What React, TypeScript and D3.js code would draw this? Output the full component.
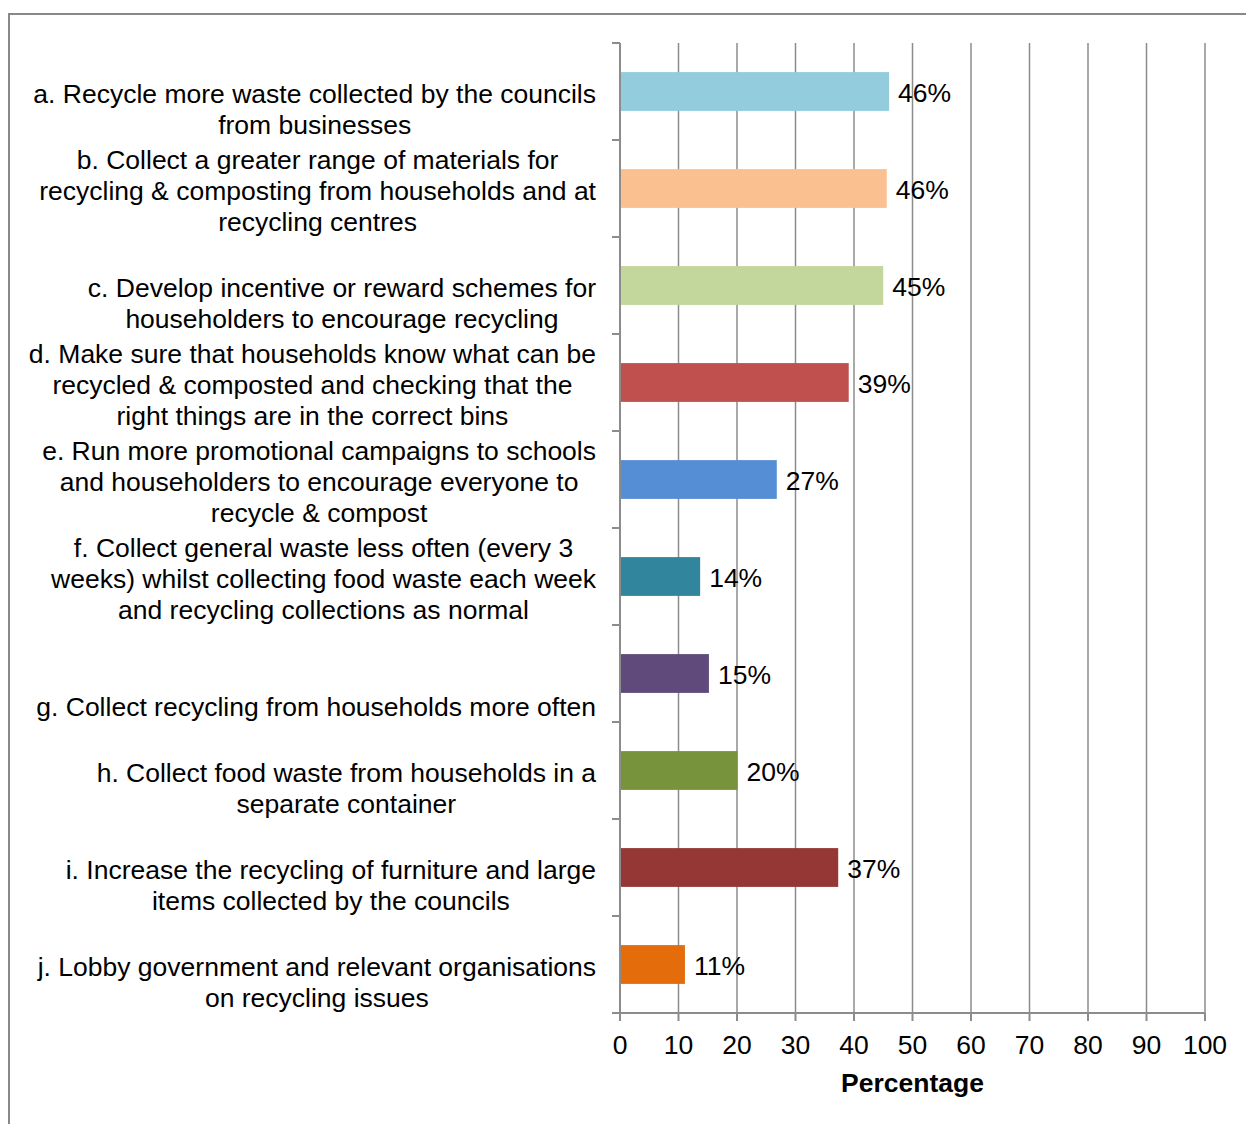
import React, { useEffect, useRef } from "react";
import * as d3 from "d3";

const categories: string[][] = [
  ["a. Recycle more waste collected by the councils", "from businesses"],
  ["b. Collect a greater range of materials for", "recycling & composting from households and at", "recycling centres"],
  ["c. Develop incentive or reward schemes for", "householders to encourage recycling"],
  ["d. Make sure that households know what can be", "recycled & composted and checking that the", "right things are in the correct bins"],
  ["e. Run more promotional campaigns to schools", "and householders to encourage everyone to", "recycle & compost"],
  ["f. Collect general waste less often (every 3", "weeks) whilst collecting food waste each week", "and recycling collections as normal"],
  ["g. Collect recycling from households more often"],
  ["h. Collect food waste from households in a", "separate container"],
  ["i. Increase the recycling of furniture and large", "items collected by the councils"],
  ["j. Lobby government and relevant organisations", "on recycling issues"],
];
const values: number[] = [46.0, 45.6, 45.0, 39.1, 26.8, 13.7, 15.2, 20.1, 37.3, 11.1];
const valueLabels: string[] = ["46%", "46%", "45%", "39%", "27%", "14%", "15%", "20%", "37%", "11%"];
const colors: string[] = ["#93CDDD", "#FAC090", "#C3D69B", "#C0504D", "#558ED5", "#31859C", "#604A7B", "#77933C", "#953735", "#E46C0A"];
const xTicks: number[] = [0, 10, 20, 30, 40, 50, 60, 70, 80, 90, 100];
const xTitle = "Percentage";

const W = 1246;
const H = 1124;
const FONT = "'Liberation Sans', Arial, Helvetica, sans-serif";
const FS = 26.5;
const GRID = "#8c8c8c";

export default function App() {
  const ref = useRef<SVGSVGElement | null>(null);

  useEffect(() => {
    const svg = d3.select(ref.current);
    svg.selectAll("*").remove();

    const left = 620, right = 1205, top = 43, bottom = 1013;
    const ids = categories.map((_, i) => String(i));
    const x = d3.scaleLinear().domain([0, 100]).range([left, right]);
    const y = d3.scaleBand<string>().domain(ids).range([top, bottom]).paddingInner(0.6).paddingOuter(0.3);
    const step = y.step();

    // outer border
    svg.append("rect").attr("x", 9).attr("y", 14).attr("width", W).attr("height", H)
      .attr("fill", "white").attr("stroke", "#888").attr("stroke-width", 2);

    // gridlines
    svg.append("g").selectAll("line").data(xTicks.filter((t) => t > 0)).join("line")
      .attr("x1", (d) => x(d)).attr("x2", (d) => x(d))
      .attr("y1", top).attr("y2", bottom)
      .attr("stroke", GRID).attr("stroke-width", 1.5);

    // bars
    svg.append("g").selectAll("rect").data(values).join("rect")
      .attr("x", x(0))
      .attr("y", (_, i) => y(ids[i]) as number)
      .attr("width", (d) => x(d) - x(0))
      .attr("height", y.bandwidth())
      .attr("fill", (_, i) => colors[i]);

    // y axis line and ticks at band boundaries
    svg.append("line").attr("x1", left).attr("x2", left).attr("y1", top).attr("y2", bottom + 8)
      .attr("stroke", GRID).attr("stroke-width", 2);
    const boundaries = d3.range(categories.length + 1).map((i) => top + i * step);
    svg.append("g").selectAll("line").data(boundaries).join("line")
      .attr("x1", left - 8).attr("x2", left).attr("y1", (d) => d).attr("y2", (d) => d)
      .attr("stroke", GRID).attr("stroke-width", 2);

    // x axis line and ticks
    svg.append("line").attr("x1", left - 8).attr("x2", right).attr("y1", bottom).attr("y2", bottom)
      .attr("stroke", GRID).attr("stroke-width", 2);
    svg.append("g").selectAll("line").data(xTicks).join("line")
      .attr("x1", (d) => x(d)).attr("x2", (d) => x(d)).attr("y1", bottom).attr("y2", bottom + 8)
      .attr("stroke", GRID).attr("stroke-width", 2);

    // x tick labels
    svg.append("g").selectAll("text").data(xTicks).join("text")
      .attr("x", (d) => x(d)).attr("y", 1054)
      .attr("text-anchor", "middle")
      .attr("font-family", FONT).attr("font-size", FS).attr("fill", "#000")
      .text((d) => String(d));

    // x title
    svg.append("text").attr("x", (left + right) / 2).attr("y", 1092)
      .attr("text-anchor", "middle").attr("font-family", FONT).attr("font-size", FS)
      .attr("font-weight", "bold").attr("fill", "#000").text(xTitle);

    // value labels
    svg.append("g").selectAll("text").data(values).join("text")
      .attr("x", (d) => x(d) + 9)
      .attr("y", (_, i) => (y(ids[i]) as number) + y.bandwidth() / 2 + 10.5)
      .attr("font-family", FONT).attr("font-size", FS).attr("fill", "#000")
      .text((_, i) => valueLabels[i]);

    // category labels: center-aligned block, right edge at 596, bottom-anchored
    const lineH = 30.8;
    const labelRight = 596;
    categories.forEach((lines, i) => {
      const c = (y(ids[i]) as number) + y.bandwidth() / 2;
      const lastBase = c + 42;
      const g = svg.append("g");
      const texts = lines.map((ln, j) =>
        g.append("text")
          .attr("y", lastBase - (lines.length - 1 - j) * lineH)
          .attr("text-anchor", "middle")
          .attr("font-family", FONT).attr("font-size", FS).attr("fill", "#000")
          .text(ln)
      );
      const maxW = d3.max(texts, (t) => (t.node() as SVGTextElement).getComputedTextLength()) || 0;
      texts.forEach((t) => t.attr("x", labelRight - maxW / 2));
    });
  }, []);

  return (
    <svg ref={ref} width={W} height={H} style={{ position: "absolute", left: 0, top: 0, background: "white" }} />
  );
}
